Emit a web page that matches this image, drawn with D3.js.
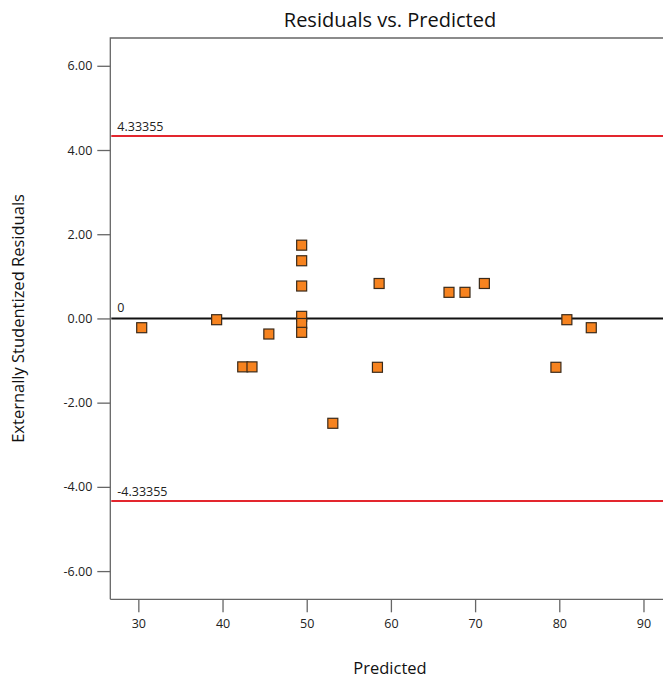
<!DOCTYPE html>
<html>
<head>
<meta charset="utf-8">
<script src="https://cdn.jsdelivr.net/npm/d3@7"></script>
<style>
  body { margin: 0; background: #fff; font-family: "Open Sans", "Noto Sans", sans-serif; }
  svg { display: block; }
</style>
</head>
<body>
<script>
// Residuals vs. Predicted
const predicted = [30.4, 39.3, 42.4, 43.5, 45.5, 49.4, 49.4, 49.4, 49.4, 49.4, 49.4,
  53.1, 58.4, 58.6, 66.9, 68.8, 71.1, 79.6, 80.9, 83.8]
const residuals = [-0.22, -0.03, -1.15, -1.15, -0.37, 1.74, 1.37, 0.77, 0.05, -0.12, -0.33,
  -2.49, -1.16, 0.83, 0.62, 0.62, 0.83, -1.16, -0.03, -0.22]
const xTicks = [30, 40, 50, 60, 70, 80, 90]
const yTicks = [-6, -4, -2, 0, 2, 4, 6]
const limit = 4.33355

const width = 663
const height = 681
const plotLeft = 110.3, plotRight = 670, plotTop = 38, plotBottom = 599.3

// plain hyphen for negatives, like the original
const fmt2 = d => d3.format('.2f')(d).replace('\u2212', '-')
const fmt5 = d => d3.format('.5f')(d).replace('\u2212', '-')

const svg = d3.select('body').append('svg')
  .attr('width', width)
  .attr('height', height)

const xScale = d3.scaleLinear()
  .domain([26.67, 93.15])
  .range([plotLeft, plotRight])

const yScale = d3.scaleLinear()
  .domain([-6.67, 6.66])
  .range([plotBottom, plotTop])

const axisColor = '#666'

// frame: left + top
svg.append('path')
  .attr('d', `M${plotLeft},${plotBottom}V${plotTop}H${plotRight + 20}`)
  .attr('fill', 'none')
  .attr('stroke', axisColor)
  .attr('stroke-width', 1.3)

const xAxis = d3.axisBottom(xScale).tickValues(xTicks).tickSize(13).tickPadding(7)
  .tickFormat(d3.format('d'))
const yAxis = d3.axisLeft(yScale).tickValues(yTicks).tickSize(13).tickPadding(5)
  .tickFormat(fmt2)

const gx = svg.append('g')
  .attr('transform', `translate(0,${plotBottom})`)
  .call(xAxis)
gx.select('.domain').attr('d', `M${plotLeft},0H${plotRight + 20}`)

const gy = svg.append('g')
  .attr('transform', `translate(${plotLeft},0)`)
  .call(yAxis)
gy.select('.domain').remove()

svg.selectAll('.tick line').attr('stroke', axisColor).attr('stroke-width', 1.3)
svg.selectAll('.domain').attr('stroke', axisColor).attr('stroke-width', 1.3)
svg.selectAll('.tick text')
  .attr('fill', '#222')
  .style('font-family', '"Open Sans", "Noto Sans", sans-serif')
  .style('font-size', '12.5px')

// control limits
const limits = [limit, -limit]
svg.selectAll('.limit')
  .data(limits)
  .enter()
  .append('line')
  .attr('class', 'limit')
  .attr('x1', plotLeft + 1)
  .attr('x2', plotRight + 20)
  .attr('y1', d => yScale(d))
  .attr('y2', d => yScale(d))
  .attr('stroke', '#e3262e')
  .attr('stroke-width', 2)

svg.selectAll('.limit-label')
  .data(limits)
  .enter()
  .append('text')
  .attr('class', 'limit-label')
  .attr('x', plotLeft + 7)
  .attr('y', d => yScale(d) - 5)
  .style('font-size', '12.5px')
  .attr('fill', '#222')
  .text(fmt5)

// zero line
svg.append('line')
  .attr('x1', plotLeft + 1)
  .attr('x2', plotRight + 20)
  .attr('y1', yScale(0))
  .attr('y2', yScale(0))
  .attr('stroke', '#111')
  .attr('stroke-width', 2)

svg.append('text')
  .attr('x', plotLeft + 7)
  .attr('y', yScale(0) - 6)
  .style('font-size', '12.5px')
  .attr('fill', '#222')
  .text('0')

// points
const size = 10
svg.append('g')
  .selectAll('rect')
  .data(predicted)
  .enter()
  .append('rect')
  .attr('x', d => xScale(d) - size / 2)
  .attr('y', (d, i) => yScale(residuals[i]) - size / 2)
  .attr('width', size)
  .attr('height', size)
  .attr('fill', '#f7831f')
  .attr('stroke', '#3a2a1a')
  .attr('stroke-width', 1.2)

// titles
svg.append('text')
  .attr('x', 390)
  .attr('y', 27)
  .attr('text-anchor', 'middle')
  .style('font-size', '20px')
  .attr('fill', '#111')
  .text('Residuals vs. Predicted')

svg.append('text')
  .attr('x', 390)
  .attr('y', 674)
  .attr('text-anchor', 'middle')
  .style('font-size', '16.5px')
  .attr('fill', '#111')
  .text('Predicted')

svg.append('text')
  .attr('transform', `translate(24,${yScale(0)}) rotate(-90)`)
  .attr('text-anchor', 'middle')
  .style('font-size', '16.5px')
  .attr('fill', '#111')
  .text('Externally Studentized Residuals')
</script>
</body>
</html>
